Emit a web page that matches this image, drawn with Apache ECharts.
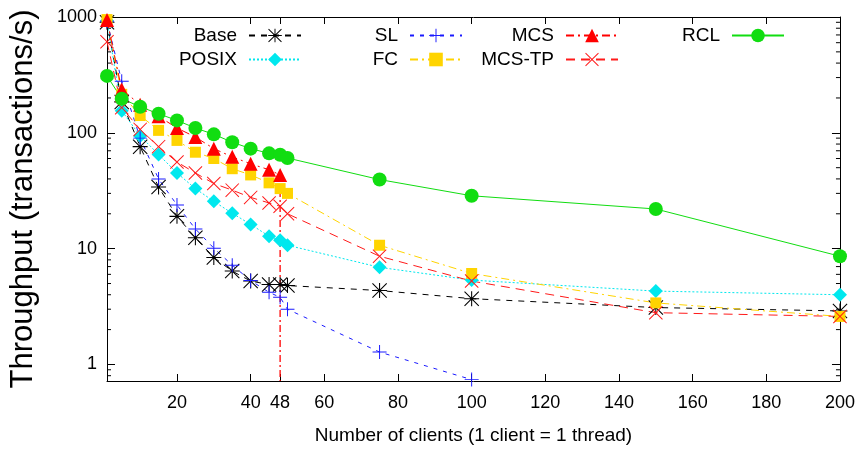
<!DOCTYPE html>
<html>
<head>
<meta charset="utf-8">
<script src="https://cdn.jsdelivr.net/npm/echarts@6/dist/echarts.min.js"></script>
<style>
  html, body { margin: 0; padding: 0; background: #fff; }
  #chart { width: 858px; height: 450px; }
</style>
</head>
<body>
<div id="chart"></div>
<script>
// x positions (number of clients)
const clients = [1, 5, 10, 15, 20, 25, 30, 35, 40, 45, 48, 50, 75, 100, 150, 200]
const xTicks = [20, 40, 48, 60, 80, 100, 120, 140, 160, 180, 200]

// throughput per lock (transactions/s)
const base = [900, 185, 76, 34, 19, 12.4, 8.4, 6.4, 5.25, 4.9, 4.9, 4.8, 4.35, 3.7, 3.1, 2.9]
const posix = [930, 155, 94, 65, 45, 33, 25.6, 20.2, 16.2, 12.8, 11.8, 10.7, 6.9, 5.35, 4.3, 4.0]
const sl = [920, 279, 90, 40, 23.8, 14.8, 10.1, 7.2, 5.3, 4.2, 3.8, 3.0, 1.28, 0.74]
const fc = [950, 215, 141, 105, 86, 68, 60, 49, 43.3, 37, 33, 30, 10.7, 6.1, 3.4, 2.6]
const mcs = [940, 237, 175, 139, 110, 92, 73, 62, 54, 48, 43.3]
const mcsTp = [612, 165, 107, 76, 56, 45, 36.5, 32, 27.7, 24.8, 23.2, 20, 8.6, 5.25, 2.8, 2.6]
const rcl = [310, 197, 168, 146, 128, 110, 97, 83, 73, 66.5, 64.7, 60.6, 39.5, 28.6, 22, 8.6]

// marker at 48 clients (number of hardware threads)
const cutoffClients = 48
const yMin = 0.72
const yMax = 1000

const FONT = '"Liberation Sans", Arial, Helvetica, sans-serif'

// gnuplot-like point shapes
const PLUS = 'path://M0,9.3H20V10.7H0Z M9.3,0H10.7V20H9.3Z'
const CROSS = 'path://M1,0L10,9L19,0L20,1L11,10L20,19L19,20L10,11L1,20L0,19L9,10L0,1Z'
const STAR = 'path://M0,9.3H20V10.7H0Z M9.3,0H10.7V20H9.3Z M1,0L10,9L19,0L20,1L11,10L20,19L19,20L10,11L1,20L0,19L9,10L0,1Z'

const pairs = vals => vals.map((v, i) => [clients[i], v])

const makeSeries = (name, vals, color, dash, symbol, size) => ({
  name,
  type: 'line',
  data: pairs(vals),
  symbol,
  symbolSize: size,
  showAllSymbol: true,
  lineStyle: { color, width: 1, type: dash },
  itemStyle: { color },
  emphasis: { disabled: true },
  animation: false
})

const series = [
  {
    name: 'cutoff',
    type: 'line',
    data: [[cutoffClients, mcs[mcs.length - 1]], [cutoffClients, yMin]],
    symbol: 'none',
    lineStyle: { color: '#ff0000', width: 1.3, type: [7, 3, 2, 3] },
    z: 1,
    silent: true,
    animation: false
  },
  makeSeries('Base', base, '#000000', [6, 6], STAR, 15),
  makeSeries('POSIX', posix, '#00e8ee', [2, 2], 'diamond', 14),
  makeSeries('SL', sl, '#1a1aff', [4, 6], PLUS, 14),
  makeSeries('FC', fc, '#ffd400', [8, 4, 2, 4], 'rect', 11),
  makeSeries('MCS', mcs, '#ff0000', [8, 4, 2, 4], 'triangle', 14),
  makeSeries('MCS-TP', mcsTp, '#ff1a1a', [9, 6], CROSS, 14),
  makeSeries('RCL', rcl, '#11dd11', 'solid', 'circle', 14)
]

// one legend box per entry, so the layout matches the 4-column key
const legendPos = [
  ['Base', 556, 26], ['SL', 395, 26], ['MCS', 239, 26], ['RCL', 73, 26],
  ['POSIX', 556, 50], ['FC', 395, 50], ['MCS-TP', 239, 50]
]
const legend = legendPos.map(([name, right, top]) => ({
  data: [name],
  right,
  top,
  align: 'right',
  itemWidth: 52,
  itemHeight: 17,
  padding: 0,
  selectedMode: false,
  textStyle: { fontSize: 19, fontFamily: FONT, color: '#000', padding: [0, 7, 0, 0] }
}))

const isDecade = v => Math.abs(Math.log10(v) - Math.round(Math.log10(v))) < 1e-6

const chart = echarts.init(document.getElementById('chart'), null, { renderer: 'canvas' })

chart.setOption({
  backgroundColor: '#fff',
  animation: false,
  textStyle: { fontFamily: FONT },
  grid: { left: 106, right: 18, top: 17, bottom: 67, containLabel: false },
  legend,
  xAxis: [
    {
      type: 'value',
      min: 1,
      max: 200,
      name: 'Number of clients (1 client = 1 thread)',
      nameLocation: 'middle',
      nameGap: 45,
      nameTextStyle: { fontSize: 19, color: '#000', fontFamily: FONT },
      axisLine: { lineStyle: { color: '#000', width: 1 } },
      axisTick: { inside: true, length: 7, customValues: xTicks, lineStyle: { color: '#000' } },
      axisLabel: { customValues: xTicks, fontSize: 18, color: '#000', margin: 13, fontFamily: FONT },
      splitLine: { show: false }
    },
    {
      type: 'value',
      position: 'top',
      min: 1,
      max: 200,
      axisLine: { lineStyle: { color: '#000', width: 1 } },
      axisTick: { inside: true, length: 7, customValues: xTicks, lineStyle: { color: '#000' } },
      axisLabel: { show: false },
      splitLine: { show: false }
    }
  ],
  yAxis: [
    {
      type: 'log',
      logBase: 10,
      min: yMin,
      max: yMax,
      name: 'Throughput (transactions/s)',
      nameLocation: 'middle',
      nameGap: 68,
      nameRotate: 90,
      nameTextStyle: { fontSize: 31, color: '#000', fontFamily: FONT },
      axisLine: { lineStyle: { color: '#000', width: 1 } },
      axisTick: { inside: true, length: 8, lineStyle: { color: '#000' } },
      axisLabel: {
        fontSize: 18,
        color: '#000',
        margin: 10,
        fontFamily: FONT,
        formatter: v => (isDecade(v) ? String(Math.round(v)) : '')
      },
      splitLine: { show: false }
    },
    {
      type: 'log',
      logBase: 10,
      min: yMin,
      max: yMax,
      position: 'right',
      axisLine: { lineStyle: { color: '#000', width: 1 } },
      axisTick: { inside: true, length: 8, lineStyle: { color: '#000' } },
      axisLabel: { show: false },
      splitLine: { show: false }
    }
  ],
  series
})

// minor log ticks (2..9 per decade) on both vertical sides
const minor = []
const leftX = chart.convertToPixel({ xAxisIndex: 0 }, 1)
const rightX = chart.convertToPixel({ xAxisIndex: 0 }, 200)
for (let d = -1; d <= 2; d++) {
  for (let k = 2; k <= 9; k++) {
    const v = k * Math.pow(10, d)
    if (v < yMin || v > yMax) continue
    const py = chart.convertToPixel({ yAxisIndex: 0 }, v)
    minor.push({ type: 'line', shape: { x1: leftX, y1: py, x2: leftX + 4, y2: py }, style: { stroke: '#000', lineWidth: 1 }, silent: true })
    minor.push({ type: 'line', shape: { x1: rightX - 4, y1: py, x2: rightX, y2: py }, style: { stroke: '#000', lineWidth: 1 }, silent: true })
  }
}
chart.setOption({ graphic: minor })
</script>
</body>
</html>
